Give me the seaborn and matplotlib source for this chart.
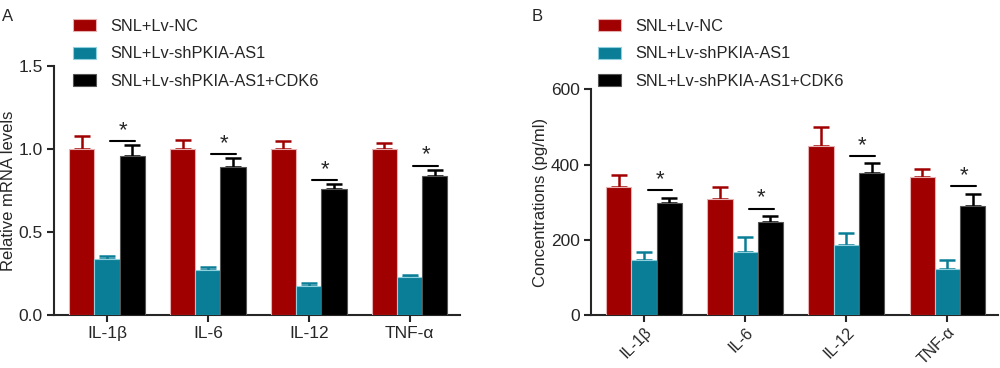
import matplotlib
matplotlib.use("Agg")
import matplotlib.pyplot as plt
import pandas as pd
import seaborn as sns
from matplotlib.patches import Patch

cytokines = ["IL-1β", "IL-6", "IL-12", "TNF-α"]
groups = ["SNL+Lv-NC", "SNL+Lv-shPKIA-AS1", "SNL+Lv-shPKIA-AS1+CDK6"]
colors = ["#a00000", "#0a7e96", "#000000"]
edges = ["#e8b0b0", "#8fd0de", "#555555"]

# panel A: relative mRNA levels (mean, upper error)
mrna_nc = [1.00, 1.00, 1.00, 1.00]
mrna_nc_err = [0.075, 0.054, 0.048, 0.034]
mrna_sh = [0.337, 0.268, 0.175, 0.228]
mrna_sh_err = [0.020, 0.024, 0.017, 0.012]
mrna_cdk6 = [0.96, 0.889, 0.76, 0.839]
mrna_cdk6_err = [0.062, 0.057, 0.026, 0.036]

# panel B: concentrations (pg/ml)
conc_nc = [340, 308, 450, 368]
conc_nc_err = [33, 32, 50, 21]
conc_sh = [146, 167, 186, 123]
conc_sh_err = [22, 40, 33, 22]
conc_cdk6 = [299, 248, 378, 289]
conc_cdk6_err = [13, 15, 25, 33]

sns.set_style("ticks")
plt.rcParams['font.family'] = ['Liberation Sans', 'DejaVu Sans']


def make_df(vals):
    rows = []
    for g, v in zip(groups, vals):
        for c, x in zip(cytokines, v):
            rows.append({"cytokine": c, "group": g, "value": x})
    return pd.DataFrame(rows)


def draw_panel(ax, vals, errs, ylim, yticks, ylabel, sig_gap, rotate):
    df = make_df(vals)
    sns.barplot(data=df, x="cytokine", y="value", hue="group", hue_order=groups,
                palette=colors, width=0.75, errorbar=None, ax=ax, legend=False,
                saturation=1, zorder=3)
    bars = list(ax.containers)
    for i, cont in enumerate(bars):
        for bar in cont:
            bar.set_edgecolor(edges[i])
            bar.set_linewidth(0.8)
        xs = [b.get_x() + b.get_width() / 2 for b in cont]
        ys = [b.get_height() for b in cont]
        ax.errorbar(xs, ys, yerr=[[0] * len(ys), errs[i]], fmt="none", ecolor=colors[i],
                    elinewidth=1.8, capsize=5.5, capthick=1.8, zorder=2)
    # significance marks over the CDK6 bars
    for j, bar in enumerate(bars[2]):
        top = vals[2][j] + errs[2][j] + sig_gap
        xc = bar.get_x() + bar.get_width() / 2
        ax.plot([xc - 0.215, xc + 0.03], [top, top], color="black", lw=1.5, zorder=4)
        ax.text(xc - 0.09, top, "*", ha="center", va="bottom", fontsize=16, zorder=4)
    ax.set_xlim(-0.525, 3.5)
    ax.set_ylim(*ylim)
    ax.set_yticks(yticks)
    ax.set_xlabel("")
    ax.set_ylabel(ylabel, fontsize=12, labelpad=2)
    sns.despine(ax=ax)
    for s in ["left", "bottom"]:
        ax.spines[s].set_linewidth(1.5)
    ax.tick_params(width=1.5, length=5, labelsize=12.5, pad=3)
    if rotate:
        plt.setp(ax.get_xticklabels(), rotation=45, ha="right", rotation_mode="anchor")


fig = plt.figure(figsize=(10, 3.68), dpi=100)
axA = fig.add_axes([0.054, 0.144, 0.406, 0.677])
axB = fig.add_axes([0.591, 0.144, 0.407, 0.613])

draw_panel(axA, [mrna_nc, mrna_sh, mrna_cdk6], [mrna_nc_err, mrna_sh_err, mrna_cdk6_err],
           (0, 1.5), [0.0, 0.5, 1.0, 1.5], "Relative mRNA levels", 0.025, False)
axA.set_yticklabels(["0.0", "0.5", "1.0", "1.5"])
draw_panel(axB, [conc_nc, conc_sh, conc_cdk6], [conc_nc_err, conc_sh_err, conc_cdk6_err],
           (0, 600), [0, 200, 400, 600], "Concentrations (pg/ml)", 20, True)
axB.tick_params(axis="x", labelsize=11.5, pad=2)

handles = [Patch(facecolor=c, edgecolor=e, linewidth=0.8) for c, e in zip(colors, edges)]
for x0 in [0.073, 0.598]:
    fig.legend(handles, groups, loc="upper left", bbox_to_anchor=(x0, 1 - 19 / 368),
               frameon=False, fontsize=11.8, handlelength=1.4, handleheight=0.75,
               labelspacing=0.75, handletextpad=0.9, borderpad=0, borderaxespad=0)

fig.text(0.002, 0.975, "A", fontsize=12, va="top")
fig.text(0.532, 0.975, "B", fontsize=12, va="top")

fig.savefig("out.png", dpi=100)
